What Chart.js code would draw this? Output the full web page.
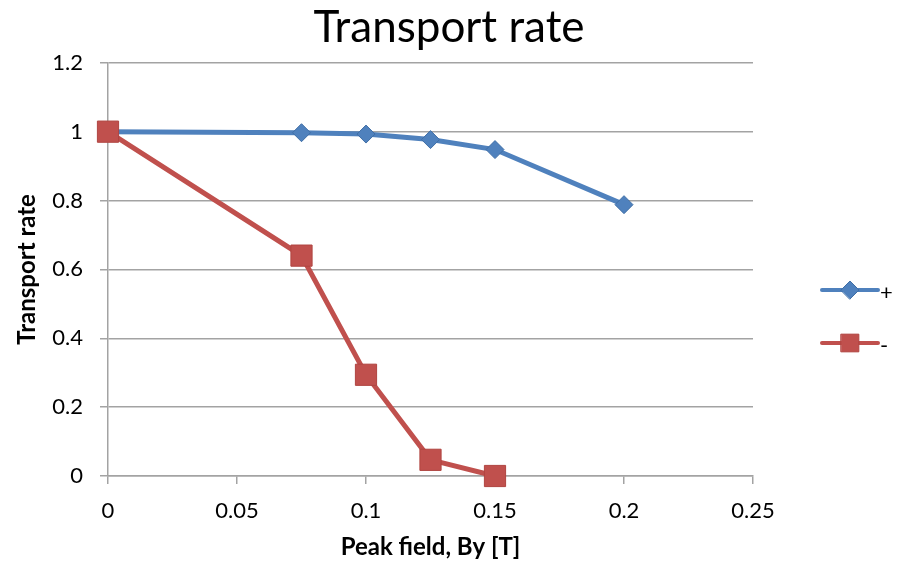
<!DOCTYPE html>
<html>
<head>
<meta charset="utf-8">
<title>Transport rate</title>
<script src="https://cdn.jsdelivr.net/npm/chart.js@4/dist/chart.umd.min.js"></script>
<style>
    html, body { margin: 0; padding: 0; background: #fff; }
    #wrap { width: 898px; height: 565px; }
</style>
</head>
<body>
<div id="wrap"><canvas id="rateChart" width="898" height="565"></canvas></div>
<script>
// peak field By [T] and measured transport rate for each polarity
const fieldPlus = [0, 0.075, 0.1, 0.125, 0.15, 0.2];
const ratePlus = [1, 0.997, 0.993, 0.977, 0.948, 0.788];
const fieldMinus = [0, 0.075, 0.1, 0.125, 0.15];
const rateMinus = [1, 0.64, 0.294, 0.047, 0];
const seriesNames = ['+', '-'];
const xTicks = [0, 0.05, 0.1, 0.15, 0.2, 0.25];
const yTicks = [0, 0.2, 0.4, 0.6, 0.8, 1, 1.2];

const BLUE = '#4F81BD';
const RED = '#C0504D';
const GRID = '#a3a3a3';
const FONT = 'Lato, "Open Sans", sans-serif';

function toPoints(xs, ys) {
    return xs.map((x, i) => ({ x: x, y: ys[i] }));
}

function tickText(v) {
    return String(+v.toFixed(3));
}

// line + marker legend drawn to the right of the plot
const sideLegend = {
    id: 'sideLegend',
    afterDraw(chart) {
        const ctx = chart.ctx;
        const x0 = chart.chartArea.right + 69;
        const rows = [290, 343];
        ctx.save();
        chart.data.datasets.forEach((ds, i) => {
            const y = rows[i];
            ctx.strokeStyle = ds.borderColor;
            ctx.lineWidth = 4;
            ctx.lineCap = 'round';
            ctx.beginPath();
            ctx.moveTo(x0, y);
            ctx.lineTo(x0 + 56, y);
            ctx.stroke();
            ctx.fillStyle = ds.pointBackgroundColor;
            ctx.strokeStyle = ds.pointBorderColor;
            ctx.lineWidth = 1;
            Chart.helpers.drawPoint(ctx, {
                pointStyle: ds.pointStyle,
                radius: ds.pointStyle === 'rect' ? 12.5 : 9,
                rotation: 0,
                borderWidth: 1
            }, x0 + 28, y);
            ctx.fillStyle = '#000';
            ctx.font = '22px ' + FONT;
            ctx.textBaseline = 'middle';
            ctx.textAlign = 'left';
            ctx.fillText(ds.label, x0 + 58, y + 3);
        });
        ctx.restore();
    }
};

const ctx = document.getElementById('rateChart').getContext('2d');

const rateChart = new Chart(ctx, {
    type: 'line',
    data: {
        datasets: [
            {
                label: seriesNames[0],
                data: toPoints(fieldPlus, ratePlus),
                borderColor: BLUE,
                backgroundColor: BLUE,
                pointBackgroundColor: BLUE,
                pointBorderColor: '#3f6ea6',
                pointStyle: 'rectRot',
                pointRadius: 9,
                pointBorderWidth: 1,
                borderWidth: 5,
                order: 1,
                clip: false
            },
            {
                label: seriesNames[1],
                data: toPoints(fieldMinus, rateMinus),
                borderColor: RED,
                backgroundColor: RED,
                pointBackgroundColor: RED,
                pointBorderColor: '#b04541',
                pointStyle: 'rect',
                pointRadius: 15,
                pointBorderWidth: 1,
                borderWidth: 5,
                order: 0,
                clip: false
            }
        ]
    },
    options: {
        responsive: false,
        animation: false,
        events: [],
        layout: { padding: 0 },
        elements: { line: { tension: 0 } },
        plugins: {
            legend: { display: false },
            tooltip: { enabled: false },
            title: {
                display: true,
                text: 'Transport rate',
                color: '#000',
                font: { family: FONT, size: 44, weight: 'normal' },
                padding: { top: 1, bottom: 9 }
            }
        },
        scales: {
            x: {
                type: 'linear',
                min: xTicks[0],
                max: xTicks[xTicks.length - 1],
                afterBuildTicks(s) { s.ticks = xTicks.map(v => ({ value: v })); },
                afterFit(s) { s.height = 89; },
                grid: { drawOnChartArea: false, drawTicks: true, tickLength: 8, color: GRID, lineWidth: 1.5 },
                border: { color: GRID, width: 1.5 },
                ticks: {
                    color: '#000',
                    font: { family: FONT, size: 22 },
                    padding: 14,
                    maxRotation: 0,
                    callback: tickText
                },
                title: {
                    display: true,
                    text: 'Peak field, By [T]',
                    color: '#000',
                    font: { family: FONT, size: 24, weight: 'bold' },
                    padding: { top: 0, bottom: 3 }
                }
            },
            y: {
                type: 'linear',
                min: yTicks[0],
                max: yTicks[yTicks.length - 1],
                afterBuildTicks(s) { s.ticks = yTicks.map(v => ({ value: v })); },
                afterFit(s) { s.width = 108; },
                grid: { drawOnChartArea: true, drawTicks: true, tickLength: 8, color: GRID, lineWidth: 1.5 },
                border: { color: GRID, width: 1.5 },
                ticks: {
                    color: '#000',
                    font: { family: FONT, size: 22 },
                    padding: 17,
                    callback: tickText
                },
                title: {
                    display: true,
                    text: 'Transport rate',
                    color: '#000',
                    font: { family: FONT, size: 24, weight: 'bold' },
                    padding: { top: 13, bottom: 0 }
                }
            },
            // empty column on the right that holds the legend
            side: {
                type: 'linear',
                position: 'right',
                display: true,
                grid: { display: false },
                border: { display: false },
                ticks: { display: false },
                afterFit(s) { s.width = 145; }
            }
        }
    },
    plugins: [sideLegend]
});
</script>
</body>
</html>
